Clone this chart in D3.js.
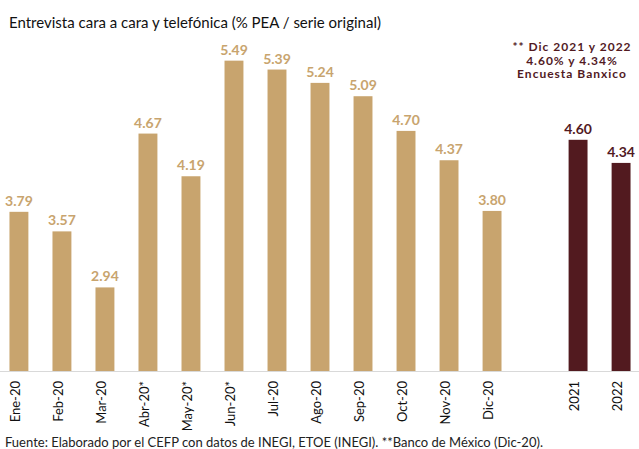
<!DOCTYPE html>
<html>
<head>
<meta charset="utf-8">
<script src="https://cdn.jsdelivr.net/npm/d3@7"></script>
<style>
  body { margin: 0; background: #fff; }
  svg { display: block; font-family: Lato, "Open Sans", sans-serif; }
</style>
</head>
<body>
<svg id="viz" width="639" height="449"></svg>
<script>
// monthly values 2020 and the Banxico forecast bars
var months = ["Ene-20", "Feb-20", "Mar-20", "Abr-20*", "May-20*", "Jun-20*", "Jul-20", "Ago-20", "Sep-20", "Oct-20", "Nov-20", "Dic-20"];
var monthValues = [3.79, 3.57, 2.94, 4.67, 4.19, 5.49, 5.39, 5.24, 5.09, 4.70, 4.37, 3.80];
var years = ["2021", "2022"];
var yearValues = [4.60, 4.34];
var note = ["** Dic 2021 y 2022", "4.60% y 4.34%", "Encuesta Banxico"];

var tan = "#c8a46e",
    maroon = "#521a1f";

var svg = d3.select("#viz");

var data = months.map(function(m, i) { return { cat: m, v: monthValues[i], c: tan }; })
  .concat(years.map(function(y, i) { return { cat: y, v: yearValues[i], c: maroon }; }));

// one empty slot between Dic-20 and 2021
var domain = months.concat(["gap"], years);

var x = d3.scaleBand().domain(domain).range([0, 640]).paddingInner(0.56).paddingOuter(0.22);
var y = d3.scaleLinear().domain([2, 6]).range([371, 15.3]);

// title
svg.append("text")
  .attr("x", 9)
  .attr("y", 28)
  .style("font-size", "15px")
  .style("fill", "#111")
  .text("Entrevista cara a cara y telefónica (% PEA / serie original)");

// bars
svg.selectAll("rect.bar")
  .data(data)
  .enter().append("rect")
  .attr("class", "bar")
  .attr("x", d => x(d.cat))
  .attr("y", d => y(d.v))
  .attr("width", x.bandwidth())
  .attr("height", d => y(2) - y(d.v))
  .style("fill", d => d.c);

// value labels
svg.selectAll("text.val")
  .data(data)
  .enter().append("text")
  .attr("class", "val")
  .attr("x", d => x(d.cat) + x.bandwidth() / 2)
  .attr("y", d => y(d.v) - 6)
  .attr("text-anchor", "middle")
  .style("font-size", "14px")
  .style("font-weight", "bold")
  .style("fill", d => d.c)
  .text(d => d.v.toFixed(2));

// x axis
var xAxis = svg.append("g")
  .attr("class", "x axis")
  .attr("transform", "translate(0," + y(2) + ")")
  .call(d3.axisBottom(x).tickSize(0).tickFormat(d => d == "gap" ? "" : d));

xAxis.select(".domain").remove();
xAxis.selectAll("text")
  .attr("transform", "rotate(-90)")
  .attr("text-anchor", "end")
  .attr("x", -10)
  .attr("y", 0)
  .attr("dy", "0.1em")
  .style("font-family", "Lato, sans-serif")
  .style("font-size", "13px")
  .style("fill", "#111");

svg.append("line")
  .attr("x1", 0)
  .attr("x2", 639)
  .attr("y1", y(2) + 0.5)
  .attr("y2", y(2) + 0.5)
  .style("stroke", "#d9d9d9")
  .style("stroke-width", 1);

// Banxico note
svg.append("g").selectAll("text")
  .data(note)
  .enter().append("text")
  .attr("x", 572)
  .attr("y", (d, i) => 51 + i * 13.5)
  .attr("text-anchor", "middle")
  .style("font-size", "12px")
  .style("font-weight", "bold")
  .style("letter-spacing", "1px")
  .style("fill", maroon)
  .text(d => d);

// source
svg.append("text")
  .attr("x", 5)
  .attr("y", 447)
  .style("font-size", "13px")
  .style("fill", "#222")
  .text("Fuente: Elaborado por el CEFP con datos de INEGI, ETOE (INEGI). **Banco de México (Dic-20).");
</script>
</body>
</html>
